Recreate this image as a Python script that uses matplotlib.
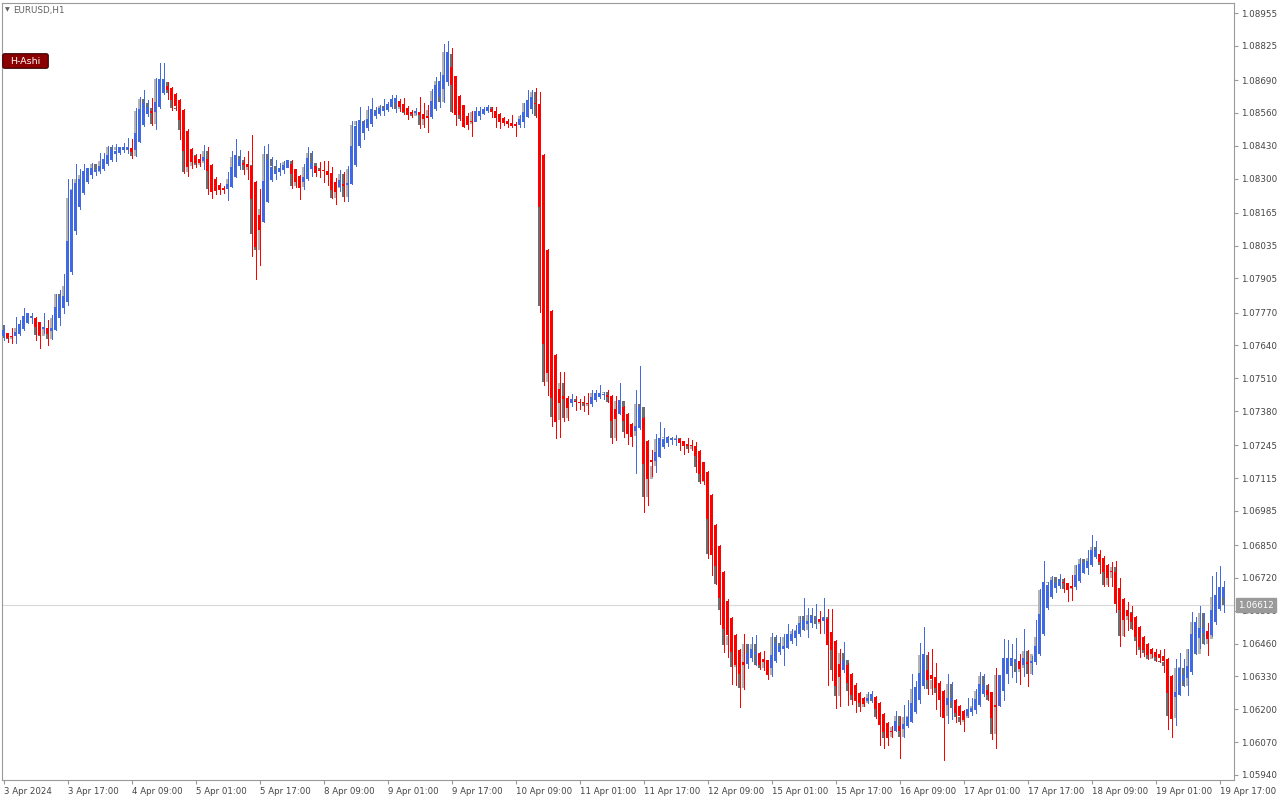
import numpy as np
import matplotlib
matplotlib.use("Agg")
import matplotlib.pyplot as plt
from matplotlib.patches import FancyBboxPatch
from matplotlib.transforms import blended_transform_factory

# EURUSD H1, Heiken Ashi overlay; one value per bar, 3 Apr 2024 01:00 onwards
ha_close = [
    1.07700, 1.07669, 1.07673, 1.07692, 1.07724, 1.07756, 1.07767, 1.07752, 1.07712, 1.07681,
    1.07712, 1.07685, 1.07708, 1.07791, 1.07831, 1.07835, 1.08052, 1.08254, 1.08282, 1.08298,
    1.08329, 1.08341, 1.08341, 1.08333, 1.08349, 1.08377, 1.08393, 1.08416, 1.08409, 1.08424,
    1.08424, 1.08424, 1.08405, 1.08480, 1.08575, 1.08598, 1.08583, 1.08559, 1.08602, 1.08693,
    1.08693, 1.08650, 1.08610, 1.08587, 1.08531, 1.08409, 1.08345, 1.08365, 1.08361, 1.08361,
    1.08385, 1.08329, 1.08246, 1.08250, 1.08254, 1.08254, 1.08278, 1.08345, 1.08393, 1.08377,
    1.08353, 1.08345, 1.08219, 1.08029, 1.08096, 1.08290, 1.08377, 1.08345, 1.08333, 1.08341,
    1.08353, 1.08373, 1.08318, 1.08286, 1.08262, 1.08306, 1.08381, 1.08361, 1.08321, 1.08329,
    1.08329, 1.08314, 1.08254, 1.08246, 1.08294, 1.08270, 1.08282, 1.08428, 1.08507, 1.08531,
    1.08519, 1.08535, 1.08575, 1.08567, 1.08579, 1.08579, 1.08595, 1.08614, 1.08618, 1.08583,
    1.08563, 1.08551, 1.08555, 1.08567, 1.08551, 1.08535, 1.08539, 1.08606, 1.08670, 1.08686,
    1.08709, 1.08800, 1.08670, 1.08551, 1.08551, 1.08503, 1.08511, 1.08523, 1.08567, 1.08567,
    1.08575, 1.08583, 1.08563, 1.08539, 1.08523, 1.08519, 1.08515, 1.08507, 1.08509, 1.08535,
    1.08563, 1.08610, 1.08622, 1.08595, 1.08187, 1.07645, 1.07530, 1.07431, 1.07336, 1.07411,
    1.07427, 1.07392, 1.07427, 1.07415, 1.07411, 1.07411, 1.07407, 1.07435, 1.07451, 1.07451,
    1.07447, 1.07435, 1.07340, 1.07348, 1.07423, 1.07340, 1.07289, 1.07277, 1.07320, 1.07396,
    1.07170, 1.07111, 1.07178, 1.07218, 1.07273, 1.07269, 1.07277, 1.07269, 1.07271, 1.07253,
    1.07241, 1.07241, 1.07241, 1.07202, 1.07131, 1.07103, 1.06952, 1.06810, 1.06767, 1.06640,
    1.06517, 1.06493, 1.06426, 1.06375, 1.06339, 1.06375, 1.06422, 1.06438, 1.06426, 1.06375,
    1.06387, 1.06335, 1.06414, 1.06462, 1.06450, 1.06450, 1.06497, 1.06497, 1.06509, 1.06541,
    1.06553, 1.06549, 1.06569, 1.06559, 1.06545, 1.06565, 1.06454, 1.06434, 1.06292, 1.06327,
    1.06395, 1.06304, 1.06256, 1.06232, 1.06224, 1.06222, 1.06244, 1.06260, 1.06201, 1.06137,
    1.06110, 1.06086, 1.06110, 1.06153, 1.06114, 1.06141, 1.06169, 1.06224, 1.06288, 1.06343,
    1.06418, 1.06315, 1.06319, 1.06284, 1.06236, 1.06165, 1.06244, 1.06244, 1.06185, 1.06173,
    1.06157, 1.06201, 1.06205, 1.06240, 1.06300, 1.06296, 1.06256, 1.06165, 1.06209, 1.06335,
    1.06402, 1.06402, 1.06402, 1.06395, 1.06359, 1.06402, 1.06379, 1.06391, 1.06450, 1.06577,
    1.06703, 1.06691, 1.06711, 1.06699, 1.06715, 1.06699, 1.06672, 1.06679, 1.06731, 1.06774,
    1.06778, 1.06786, 1.06830, 1.06830, 1.06782, 1.06743, 1.06719, 1.06743, 1.06616, 1.06592,
    1.06553, 1.06569, 1.06545, 1.06486, 1.06446, 1.06434, 1.06414, 1.06418, 1.06406, 1.06402,
    1.06391, 1.06264, 1.06161, 1.06268, 1.06363, 1.06335, 1.06371, 1.06497, 1.06545, 1.06521,
    1.06521, 1.06478, 1.06592, 1.06652, 1.06683, 1.06683,
]

ha_high = [
    1.07720, 1.07689, 1.07708, 1.07752, 1.07740, 1.07787, 1.07767, 1.07767, 1.07752, 1.07732,
    1.07767, 1.07740, 1.07760, 1.07843, 1.07859, 1.07922, 1.08298, 1.08298, 1.08357, 1.08337,
    1.08357, 1.08341, 1.08361, 1.08341, 1.08401, 1.08401, 1.08428, 1.08432, 1.08436, 1.08424,
    1.08440, 1.08460, 1.08456, 1.08579, 1.08622, 1.08650, 1.08610, 1.08618, 1.08697, 1.08757,
    1.08757, 1.08682, 1.08662, 1.08638, 1.08614, 1.08575, 1.08496, 1.08420, 1.08397, 1.08397,
    1.08432, 1.08424, 1.08357, 1.08306, 1.08282, 1.08270, 1.08325, 1.08409, 1.08456, 1.08412,
    1.08385, 1.08409, 1.08472, 1.08290, 1.08258, 1.08428, 1.08436, 1.08385, 1.08373, 1.08361,
    1.08369, 1.08373, 1.08373, 1.08337, 1.08314, 1.08357, 1.08424, 1.08409, 1.08349, 1.08365,
    1.08369, 1.08369, 1.08345, 1.08302, 1.08333, 1.08325, 1.08349, 1.08527, 1.08527, 1.08583,
    1.08531, 1.08587, 1.08618, 1.08583, 1.08591, 1.08614, 1.08602, 1.08630, 1.08630, 1.08614,
    1.08618, 1.08587, 1.08571, 1.08579, 1.08622, 1.08598, 1.08591, 1.08654, 1.08701, 1.08721,
    1.08832, 1.08844, 1.08816, 1.08705, 1.08630, 1.08591, 1.08559, 1.08567, 1.08583, 1.08583,
    1.08583, 1.08591, 1.08583, 1.08583, 1.08559, 1.08543, 1.08535, 1.08551, 1.08523, 1.08551,
    1.08598, 1.08650, 1.08650, 1.08658, 1.08642, 1.08397, 1.08021, 1.07779, 1.07605, 1.07534,
    1.07534, 1.07439, 1.07447, 1.07439, 1.07427, 1.07439, 1.07451, 1.07463, 1.07463, 1.07483,
    1.07455, 1.07463, 1.07443, 1.07439, 1.07491, 1.07400, 1.07372, 1.07332, 1.07463, 1.07558,
    1.07356, 1.07265, 1.07225, 1.07289, 1.07336, 1.07313, 1.07281, 1.07277, 1.07285, 1.07273,
    1.07261, 1.07273, 1.07265, 1.07257, 1.07225, 1.07178, 1.07142, 1.07051, 1.06933, 1.06850,
    1.06747, 1.06636, 1.06565, 1.06497, 1.06438, 1.06497, 1.06458, 1.06486, 1.06493, 1.06426,
    1.06430, 1.06395, 1.06501, 1.06493, 1.06486, 1.06497, 1.06537, 1.06517, 1.06533, 1.06569,
    1.06640, 1.06600, 1.06600, 1.06616, 1.06588, 1.06640, 1.06596, 1.06596, 1.06474, 1.06438,
    1.06466, 1.06383, 1.06343, 1.06304, 1.06268, 1.06248, 1.06268, 1.06272, 1.06252, 1.06228,
    1.06185, 1.06149, 1.06133, 1.06193, 1.06169, 1.06217, 1.06236, 1.06339, 1.06311, 1.06462,
    1.06525, 1.06426, 1.06438, 1.06383, 1.06311, 1.06276, 1.06339, 1.06308, 1.06240, 1.06217,
    1.06197, 1.06244, 1.06244, 1.06280, 1.06347, 1.06339, 1.06300, 1.06268, 1.06363, 1.06335,
    1.06478, 1.06474, 1.06458, 1.06482, 1.06418, 1.06517, 1.06434, 1.06410, 1.06553, 1.06676,
    1.06786, 1.06703, 1.06727, 1.06703, 1.06735, 1.06719, 1.06699, 1.06731, 1.06770, 1.06798,
    1.06790, 1.06830, 1.06889, 1.06865, 1.06830, 1.06806, 1.06774, 1.06782, 1.06786, 1.06719,
    1.06640, 1.06624, 1.06608, 1.06569, 1.06529, 1.06490, 1.06462, 1.06442, 1.06438, 1.06434,
    1.06438, 1.06402, 1.06335, 1.06399, 1.06422, 1.06399, 1.06438, 1.06584, 1.06565, 1.06608,
    1.06581, 1.06541, 1.06727, 1.06743, 1.06767, 1.06707,
]

ha_low = [
    1.07661, 1.07653, 1.07649, 1.07649, 1.07681, 1.07700, 1.07728, 1.07728, 1.07661, 1.07629,
    1.07689, 1.07641, 1.07665, 1.07700, 1.07720, 1.07767, 1.07799, 1.07922, 1.08080, 1.08179,
    1.08238, 1.08282, 1.08302, 1.08314, 1.08321, 1.08333, 1.08353, 1.08369, 1.08369, 1.08397,
    1.08405, 1.08401, 1.08381, 1.08389, 1.08444, 1.08507, 1.08547, 1.08511, 1.08496, 1.08579,
    1.08634, 1.08614, 1.08571, 1.08571, 1.08456, 1.08321, 1.08310, 1.08341, 1.08345, 1.08349,
    1.08337, 1.08238, 1.08223, 1.08238, 1.08238, 1.08242, 1.08215, 1.08266, 1.08306, 1.08337,
    1.08318, 1.08298, 1.07993, 1.07902, 1.07957, 1.08128, 1.08207, 1.08290, 1.08298, 1.08314,
    1.08321, 1.08345, 1.08262, 1.08266, 1.08219, 1.08258, 1.08294, 1.08310, 1.08310, 1.08306,
    1.08286, 1.08274, 1.08223, 1.08199, 1.08250, 1.08211, 1.08211, 1.08278, 1.08349, 1.08424,
    1.08456, 1.08492, 1.08507, 1.08539, 1.08551, 1.08551, 1.08567, 1.08579, 1.08563, 1.08567,
    1.08555, 1.08535, 1.08543, 1.08555, 1.08500, 1.08503, 1.08484, 1.08539, 1.08571, 1.08583,
    1.08602, 1.08670, 1.08563, 1.08511, 1.08531, 1.08503, 1.08496, 1.08468, 1.08527, 1.08535,
    1.08555, 1.08563, 1.08543, 1.08503, 1.08500, 1.08511, 1.08503, 1.08503, 1.08468, 1.08503,
    1.08503, 1.08543, 1.08559, 1.08543, 1.07772, 1.07483, 1.07443, 1.07320, 1.07273, 1.07277,
    1.07340, 1.07344, 1.07400, 1.07384, 1.07388, 1.07380, 1.07368, 1.07400, 1.07419, 1.07431,
    1.07427, 1.07415, 1.07253, 1.07265, 1.07368, 1.07277, 1.07249, 1.07241, 1.07134, 1.07309,
    1.06980, 1.07008, 1.07123, 1.07138, 1.07198, 1.07233, 1.07241, 1.07249, 1.07245, 1.07225,
    1.07210, 1.07218, 1.07225, 1.07138, 1.07095, 1.07091, 1.06798, 1.06731, 1.06695, 1.06537,
    1.06426, 1.06406, 1.06300, 1.06296, 1.06209, 1.06280, 1.06363, 1.06391, 1.06375, 1.06359,
    1.06355, 1.06319, 1.06331, 1.06387, 1.06418, 1.06375, 1.06442, 1.06462, 1.06454, 1.06490,
    1.06513, 1.06486, 1.06525, 1.06521, 1.06501, 1.06501, 1.06296, 1.06315, 1.06205, 1.06213,
    1.06347, 1.06217, 1.06220, 1.06189, 1.06193, 1.06213, 1.06224, 1.06228, 1.06165, 1.06058,
    1.06046, 1.06058, 1.06090, 1.06114, 1.06007, 1.06090, 1.06129, 1.06149, 1.06185, 1.06224,
    1.06284, 1.06260, 1.06260, 1.06201, 1.06173, 1.05999, 1.06145, 1.06161, 1.06149, 1.06141,
    1.06114, 1.06169, 1.06177, 1.06185, 1.06213, 1.06252, 1.06236, 1.06082, 1.06046, 1.06213,
    1.06236, 1.06304, 1.06327, 1.06308, 1.06300, 1.06331, 1.06292, 1.06339, 1.06379, 1.06414,
    1.06493, 1.06596, 1.06640, 1.06664, 1.06679, 1.06664, 1.06628, 1.06632, 1.06676, 1.06703,
    1.06739, 1.06735, 1.06767, 1.06798, 1.06739, 1.06687, 1.06687, 1.06687, 1.06584, 1.06450,
    1.06490, 1.06513, 1.06517, 1.06418, 1.06406, 1.06410, 1.06399, 1.06406, 1.06391, 1.06387,
    1.06347, 1.06122, 1.06090, 1.06137, 1.06256, 1.06292, 1.06256, 1.06339, 1.06418, 1.06442,
    1.06458, 1.06414, 1.06490, 1.06537, 1.06592, 1.06584,
]

# close of the ordinary H1 candles drawn in grey under the Heiken Ashi bars
real_close = [
    1.07669, 1.07665, 1.07677, 1.07708, 1.07716, 1.07748, 1.07756, 1.07748, 1.07681, 1.07677,
    1.07704, 1.07665, 1.07748, 1.07843, 1.07799, 1.07874, 1.08223, 1.08258, 1.08298, 1.08314,
    1.08329, 1.08325, 1.08357, 1.08325, 1.08369, 1.08373, 1.08424, 1.08412, 1.08424, 1.08416,
    1.08424, 1.08412, 1.08389, 1.08567, 1.08614, 1.08598, 1.08579, 1.08515, 1.08693, 1.08689,
    1.08682, 1.08638, 1.08579, 1.08575, 1.08492, 1.08325, 1.08349, 1.08393, 1.08353, 1.08361,
    1.08409, 1.08258, 1.08250, 1.08254, 1.08254, 1.08258, 1.08298, 1.08385, 1.08389, 1.08373,
    1.08333, 1.08353, 1.08080, 1.08017, 1.08179, 1.08397, 1.08377, 1.08349, 1.08333, 1.08341,
    1.08365, 1.08369, 1.08270, 1.08294, 1.08266, 1.08345, 1.08401, 1.08361, 1.08341, 1.08333,
    1.08329, 1.08314, 1.08223, 1.08262, 1.08318, 1.08227, 1.08337, 1.08511, 1.08527, 1.08527,
    1.08507, 1.08571, 1.08571, 1.08563, 1.08587, 1.08579, 1.08595, 1.08614, 1.08575, 1.08587,
    1.08559, 1.08555, 1.08547, 1.08563, 1.08511, 1.08543, 1.08571, 1.08646, 1.08686, 1.08602,
    1.08800, 1.08792, 1.08563, 1.08559, 1.08535, 1.08511, 1.08515, 1.08563, 1.08563, 1.08567,
    1.08575, 1.08583, 1.08567, 1.08539, 1.08527, 1.08519, 1.08515, 1.08511, 1.08511, 1.08547,
    1.08598, 1.08610, 1.08642, 1.08547, 1.07795, 1.07495, 1.07530, 1.07356, 1.07344, 1.07491,
    1.07352, 1.07423, 1.07427, 1.07415, 1.07411, 1.07400, 1.07407, 1.07451, 1.07447, 1.07451,
    1.07455, 1.07415, 1.07273, 1.07419, 1.07419, 1.07297, 1.07293, 1.07281, 1.07407, 1.07396,
    1.07040, 1.07111, 1.07162, 1.07269, 1.07273, 1.07277, 1.07273, 1.07269, 1.07273, 1.07253,
    1.07245, 1.07229, 1.07241, 1.07158, 1.07099, 1.07107, 1.06814, 1.06818, 1.06695, 1.06592,
    1.06454, 1.06490, 1.06367, 1.06379, 1.06284, 1.06458, 1.06422, 1.06458, 1.06375, 1.06363,
    1.06395, 1.06335, 1.06486, 1.06462, 1.06450, 1.06486, 1.06497, 1.06509, 1.06513, 1.06569,
    1.06513, 1.06573, 1.06569, 1.06537, 1.06549, 1.06565, 1.06454, 1.06355, 1.06252, 1.06422,
    1.06395, 1.06272, 1.06236, 1.06236, 1.06209, 1.06224, 1.06260, 1.06232, 1.06169, 1.06141,
    1.06086, 1.06090, 1.06129, 1.06173, 1.06090, 1.06169, 1.06169, 1.06280, 1.06268, 1.06414,
    1.06414, 1.06280, 1.06315, 1.06264, 1.06240, 1.06173, 1.06300, 1.06205, 1.06169, 1.06149,
    1.06165, 1.06201, 1.06213, 1.06272, 1.06331, 1.06296, 1.06236, 1.06102, 1.06335, 1.06276,
    1.06395, 1.06399, 1.06399, 1.06347, 1.06363, 1.06430, 1.06339, 1.06418, 1.06486, 1.06672,
    1.06699, 1.06703, 1.06723, 1.06699, 1.06715, 1.06676, 1.06676, 1.06683, 1.06770, 1.06794,
    1.06778, 1.06798, 1.06842, 1.06802, 1.06770, 1.06691, 1.06719, 1.06763, 1.06616, 1.06490,
    1.06553, 1.06584, 1.06517, 1.06470, 1.06434, 1.06422, 1.06399, 1.06418, 1.06391, 1.06387,
    1.06371, 1.06173, 1.06165, 1.06363, 1.06363, 1.06292, 1.06438, 1.06545, 1.06418, 1.06581,
    1.06458, 1.06478, 1.06644, 1.06648, 1.06679, 1.06612,
]

first_ha_open = 1.07677
first_real_open = 1.07720
last_price = 1.06612

price_ticks = [1.08955, 1.08825, 1.08690, 1.08560, 1.08430, 1.08300, 1.08165, 1.08035,
               1.07905, 1.07770, 1.07640, 1.07510, 1.07380, 1.07245, 1.07115, 1.06985,
               1.06850, 1.06720, 1.06590, 1.06460, 1.06330, 1.06200, 1.06070, 1.05940]

time_labels = ["3 Apr 2024", "3 Apr 17:00", "4 Apr 09:00", "5 Apr 01:00", "5 Apr 17:00",
               "8 Apr 09:00", "9 Apr 01:00", "9 Apr 17:00", "10 Apr 09:00", "11 Apr 01:00",
               "11 Apr 17:00", "12 Apr 09:00", "15 Apr 01:00", "15 Apr 17:00", "16 Apr 09:00",
               "17 Apr 01:00", "17 Apr 17:00", "18 Apr 09:00", "19 Apr 01:00", "19 Apr 17:00"]
bars_per_label = 16

BLUE = "#4169e1"
RED = "#ff0000"
BULL_GREY = "#b4b4b4"
BEAR_GREY = "#6e6e6e"
TEXT = "#444444"

ha_c = np.array(ha_close)
ha_h = np.array(ha_high)
ha_l = np.array(ha_low)
rc = np.array(real_close)
n = len(ha_c)
x = np.arange(n)

# Heiken Ashi open: midpoint of the previous HA body
ha_o = np.empty(n)
ha_o[0] = first_ha_open
for i in range(1, n):
    ha_o[i] = (ha_o[i - 1] + ha_c[i - 1]) / 2
ro = np.r_[first_real_open, rc[:-1]]

ha_cols = np.where(ha_c >= ha_o, BLUE, RED)
real_cols = np.where(rc >= ro, BULL_GREY, BEAR_GREY)
min_body = 0.00004  # keep doji bodies one pixel tall

plt.rcParams["font.family"] = ["DejaVu Sans"]
fig = plt.figure(figsize=(12.8, 8), dpi=100)
fig.patch.set_facecolor("white")
ax = fig.add_axes([2 / 1280, 20 / 800, 1232 / 1280, 777 / 800])
ax.set_facecolor("white")

ax.axhline(last_price, color="#d8d8d8", linewidth=0.8, zorder=1)

# crisp, pixel-like bars as in the terminal
ax.bar(x, np.maximum(np.abs(rc - ro), min_body), bottom=np.minimum(rc, ro),
       width=0.7, color=real_cols, linewidth=0, zorder=2, antialiased=False)
ax.vlines(x, ha_l, ha_h, colors=ha_cols, linewidth=0.7, zorder=3, antialiased=False)
ax.bar(x, np.maximum(np.abs(ha_c - ha_o), min_body), bottom=np.minimum(ha_c, ha_o),
       width=0.7, color=ha_cols, linewidth=0, zorder=4, antialiased=False)

ax.set_xlim(-0.375, 307.6)
ax.set_ylim(1.05920, 1.08995)

ax.yaxis.tick_right()
ax.set_yticks(price_ticks)
ax.set_yticklabels([f"{p:.5f}" for p in price_ticks])
ax.tick_params(axis="y", length=3, width=0.8, pad=2, labelsize=6.3,
               colors="#9a9a9a", labelcolor=TEXT)

ax.set_xticks(x[::bars_per_label][:len(time_labels)])
ax.set_xticklabels(time_labels, ha="left")
ax.tick_params(axis="x", length=3, width=0.8, pad=2, labelsize=6.2,
               colors="#9a9a9a", labelcolor=TEXT)

for side in ["left", "right", "top", "bottom"]:
    ax.spines[side].set_color("#9a9a9a")
    ax.spines[side].set_linewidth(0.8)

# current price tag on the price scale
trans = blended_transform_factory(ax.transAxes, ax.transData)
ax.text(1.0035, last_price, f"{last_price:.5f}", transform=trans, fontsize=6.3,
        color="white", va="center", ha="left", zorder=10, clip_on=False,
        bbox=dict(boxstyle="square,pad=0.25", fc="#9a9a9a", ec="#9a9a9a"))

# symbol caption and indicator label
fig.text(7 / 1280, 1 - 10 / 800, "\u25bc", fontsize=4.5, color="#606060",
         ha="center", va="center")
fig.text(13 / 1280, 1 - 10 / 800, "EURUSD,H1", fontsize=6.3, color="#606060",
         ha="left", va="center")
fig.add_artist(FancyBboxPatch((4 / 1280, 1 - 67 / 800), 43 / 1280, 12 / 800,
                              boxstyle="round,pad=0.001,rounding_size=0.0015",
                              mutation_aspect=1.6, transform=fig.transFigure,
                              fc="#8b0000", ec="#3a0000", linewidth=0.8, zorder=10))
fig.text(25.5 / 1280, 1 - 61 / 800, "H-Ashi", fontsize=6.8, color="white",
         ha="center", va="center", zorder=11)

fig.savefig("out.png", dpi=100, facecolor="white")
